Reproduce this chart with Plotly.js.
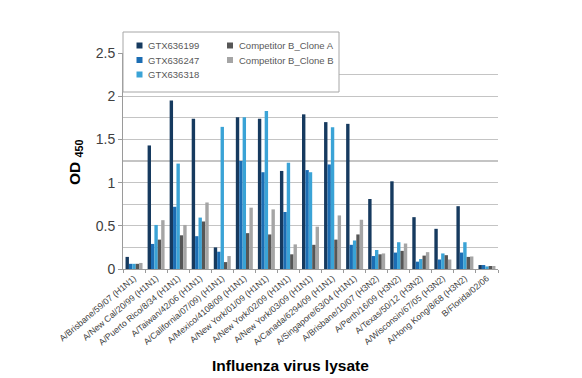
<!DOCTYPE html>
<html>
<head>
<meta charset="utf-8">
<script src="https://cdn.plot.ly/plotly-3.0.1.min.js"></script>
<style>html,body{margin:0;padding:0;background:#fff;}#chart{width:582px;height:378px;}</style>
</head>
<body>
<div id="chart"></div>
<script>
var categories = [
  "A/Brisbane/59/07 (H1N1)", "A/New Cal/20/99 (H1N1)", "A/Puerto Rico/8/34 (H1N1)",
  "A/Taiwan/42/06 (H1N1)", "A/California/07/09) (H1N1)", "A/Mexico/4108/09 (H1N1)",
  "A/New York/01/09 (H1N1)", "A/New York/02/09 (H1N1)", "A/New York/03/09 (H1N1)",
  "A/Canada/6294/09 (H1N1)", "A/Singapore/63/04 (H1N1)", "A/Brisbane/10/07 (H3N2)",
  "A/Perth/16/09 (H3N2)", "A/Texas/50/12 (H3N2)", "A/Wisconsin/67/05 (H3N2)",
  "A/Hong Kong/8/68 (H3N2)", "B/Florida/02/06"
];
var seriesNames = ["GTX636199", "GTX636247", "GTX636318", "Competitor B_Clone A", "Competitor B_Clone B"];
var gtx636199 = [0.14, 1.43, 1.95, 1.74, 0.25, 1.755, 1.74, 1.135, 1.79, 1.70, 1.68, 0.81, 1.015, 0.60, 0.465, 0.727, 0.046];
var gtx636247 = [0.06, 0.29, 0.72, 0.38, 0.20, 1.25, 1.12, 0.66, 1.145, 1.21, 0.28, 0.15, 0.19, 0.085, 0.11, 0.19, 0.046];
var gtx636318 = [0.06, 0.51, 1.22, 0.595, 1.645, 1.755, 1.83, 1.23, 1.12, 1.64, 0.33, 0.22, 0.31, 0.115, 0.18, 0.31, 0.03];
var competitorA = [0.06, 0.34, 0.39, 0.55, 0.08, 0.415, 0.40, 0.17, 0.28, 0.34, 0.40, 0.17, 0.21, 0.155, 0.16, 0.14, 0.035];
var competitorB = [0.07, 0.565, 0.51, 0.77, 0.15, 0.71, 0.69, 0.285, 0.49, 0.62, 0.57, 0.18, 0.295, 0.195, 0.11, 0.145, 0.035];
var yTickVals = [0, 0.5, 1, 1.5, 2, 2.5];
var yTickText = ["0", "0.5", "1", "1.5", "2", "2.5"];

var colors = ["#163a5f", "#1c6db3", "#3aa3d6", "#565656", "#a5a5a5"];
var seriesValues = [gtx636199, gtx636247, gtx636318, competitorA, competitorB];

var traces = seriesValues.map(function (vals, i) {
  return {
    type: "bar", name: seriesNames[i], x: categories, y: vals,
    marker: { color: colors[i], line: { width: 0 } }, showlegend: false
  };
});

// plot area in pixels: left 123, right 498, top 53, bottom 269
function px(x) { return (x - 123) / 375; }
function py(y) { return (269 - y) / 216; }

var shapes = [{
  type: "rect", xref: "paper", yref: "paper", layer: "above",
  x0: px(123), x1: px(339), y0: py(92), y1: py(32),
  line: { color: "#a6a6a6", width: 1 }, fillcolor: "#ffffff"
}];
var annotations = [];
var legendPos = [[139.5, 45.5], [139.5, 60], [139.5, 74.5], [230, 45.5], [230, 60]];
seriesNames.forEach(function (name, i) {
  var p = legendPos[i];
  shapes.push({
    type: "rect", xref: "paper", yref: "paper", layer: "above",
    xsizemode: "pixel", ysizemode: "pixel", xanchor: px(p[0]), yanchor: py(p[1]),
    x0: -3, x1: 3, y0: -3, y1: 3, line: { width: 0 }, fillcolor: colors[i]
  });
  annotations.push({
    xref: "paper", yref: "paper", x: px(p[0] + 6.5), y: py(p[1]),
    xanchor: "left", yanchor: "middle", showarrow: false, text: name,
    font: { family: "Liberation Sans, Arial, sans-serif", size: 9.5, color: "#595959" }
  });
});
annotations.push({
  xref: "paper", yref: "paper", x: px(290), y: py(365), xanchor: "center", yanchor: "middle",
  showarrow: false, text: "<b>Influenza virus lysate</b>",
  font: { family: "Liberation Sans, Arial, sans-serif", size: 15.5, color: "#000" }
});
annotations.push({
  xref: "paper", yref: "paper", x: px(75), y: py(162), xanchor: "center", yanchor: "middle",
  showarrow: false, textangle: -90, text: "<b>OD <sub>450</sub></b>",
  font: { family: "Liberation Sans, Arial, sans-serif", size: 15.5, color: "#000" }
});

var layout = {
  width: 582, height: 378,
  margin: { l: 123, r: 84, t: 53, b: 109, pad: 0 },
  paper_bgcolor: "#ffffff", plot_bgcolor: "#ffffff",
  barmode: "group", bargap: 0.23, bargroupgap: 0,
  showlegend: false,
  font: { family: "Liberation Sans, Arial, sans-serif", color: "#404040" },
  xaxis: {
    type: "category", range: [-0.5, categories.length - 0.5],
    showline: true, linecolor: "#9a9a9a", linewidth: 1,
    ticks: "outside", tickson: "boundaries", ticklen: 3, tickcolor: "#9a9a9a",
    tickangle: -40, tickfont: { size: 8.7, color: "#404040" },
    showgrid: false, zeroline: false
  },
  yaxis: {
    range: [0, 2.5], tickmode: "array", tickvals: yTickVals, ticktext: yTickText,
    showline: true, linecolor: "#9a9a9a", linewidth: 1,
    ticks: "outside", ticklen: 4, tickcolor: "#9a9a9a",
    tickfont: { size: 14, color: "#404040" },
    showgrid: true, gridcolor: "#c4c4c4", gridwidth: 1.3,
    minor: { dtick: 0.25, tick0: 0, showgrid: true, gridcolor: "#c4c4c4", gridwidth: 1.3, ticks: "" },
    zeroline: false
  },
  shapes: shapes,
  annotations: annotations
};

Plotly.newPlot("chart", traces, layout, { displayModeBar: false, staticPlot: true });
</script>
</body>
</html>
